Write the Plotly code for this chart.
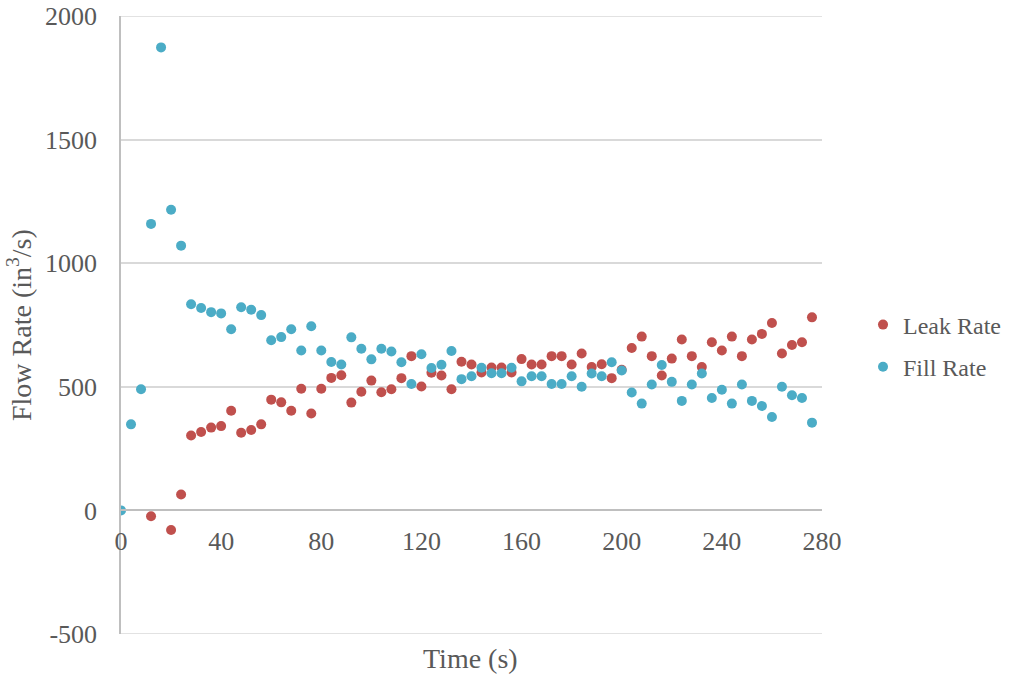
import plotly.graph_objects as go

time_s = [0, 4, 8, 12, 16, 20, 24, 28, 32, 36, 40, 44, 48, 52, 56, 60, 64, 68, 72, 76,
          80, 84, 88, 92, 96, 100, 104, 108, 112, 116, 120, 124, 128, 132, 136, 140,
          144, 148, 152, 156, 160, 164, 168, 172, 176, 180, 184, 188, 192, 196, 200,
          204, 208, 212, 216, 220, 224, 228, 232, 236, 240, 244, 248, 252, 256, 260,
          264, 268, 272, 276]

leak_rate = [None, None, None, -24, None, -79, 64, 303, 317, 335, 341, 403, 314, 325, 348,
             448, 437, 403, 492, 392, 492, 536, 547, 436, 480, 525, 478, 490, 535, 624,
             501, 557, 546, 490, 601, 590, 558, 578, 578, 558, 612, 590, 590, 624, 624,
             590, 635, 580, 591, 535, 569, 657, 703, 624, 546, 614, 691, 624, 580, 680,
             647, 703, 624, 691, 714, 758, 635, 669, 680, 781]

fill_rate = [0, 348, 490, 1159, 1873, 1216, 1071, 834, 819, 802, 797, 733, 822, 812, 790,
             688, 701, 733, 647, 745, 647, 600, 590, 700, 654, 611, 654, 643, 599, 511,
             632, 576, 589, 645, 531, 543, 577, 555, 555, 577, 522, 543, 543, 511, 511,
             543, 500, 554, 543, 599, 566, 477, 432, 509, 588, 520, 443, 509, 554, 455,
             488, 432, 509, 443, 422, 378, 500, 466, 455, 355]

y_tick_vals = [-500, 0, 500, 1000, 1500, 2000]
y_tick_text = ["-500", "0", "500", "1000", "1500", "2000"]
x_tick_vals = [0, 40, 80, 120, 160, 200, 240, 280]

FONT = "Liberation Serif"
TXT = "#595959"
GRID = "#d9d9d9"

fig = go.Figure()
fig.add_trace(go.Scatter(x=time_s, y=leak_rate, mode="markers", name="Leak Rate",
                         legendgroup="a",
                         marker=dict(color="#c0504d", size=10)))
fig.add_trace(go.Scatter(x=time_s, y=fill_rate, mode="markers", name="Fill Rate",
                         legendgroup="b",
                         marker=dict(color="#4bacc6", size=10)))

# edge gridlines (at the range limits) drawn explicitly
edge_shapes = [
    dict(type="line", xref="paper", yref="y", x0=0, x1=1,
         y0=v, y1=v, line=dict(color=GRID, width=1.5), layer="below")
    for v in (y_tick_vals[0], y_tick_vals[-1])
]

fig.update_layout(
    width=1015, height=676,
    margin=dict(l=121, r=193, t=16, b=42, autoexpand=False),
    paper_bgcolor="white", plot_bgcolor="white",
    font=dict(family=FONT, size=26, color=TXT),
    showlegend=True,
    legend=dict(x=1.0585, xanchor="left", y=0.466, yanchor="middle",
                font=dict(family=FONT, size=24, color=TXT),
                tracegroupgap=8, bgcolor="rgba(0,0,0,0)"),
    xaxis=dict(range=[0, 280], tickvals=x_tick_vals, showgrid=False,
               anchor="free", position=0.2, showline=True, linecolor="#bfbfbf",
               linewidth=1.5, ticks="", zeroline=False, ticklabelstandoff=8,
               automargin=False,
               tickfont=dict(family=FONT, size=26, color=TXT)),
    yaxis=dict(range=[-500, 2000], tickvals=y_tick_vals, ticktext=y_tick_text,
               showgrid=True, gridcolor=GRID, gridwidth=1.5,
               showline=True, linecolor="#bfbfbf", linewidth=1.5,
               zeroline=False, ticks="", ticklabelstandoff=17,
               automargin=False,
               tickfont=dict(family=FONT, size=26, color=TXT)),
    shapes=edge_shapes,
    annotations=[
        dict(text="Time (s)", xref="paper", yref="paper", x=0.498, y=-0.039,
             xanchor="center", yanchor="middle", showarrow=False,
             font=dict(family=FONT, size=28, color=TXT)),
        dict(text="Flow Rate (in<sup>3</sup>/s)", xref="paper", yref="paper",
             x=-0.1455, y=0.5, xanchor="center", yanchor="middle",
             textangle=-90, showarrow=False,
             font=dict(family=FONT, size=28, color=TXT)),
    ],
)

fig.write_html("out.html",
               config={"displayModeBar": False},
               post_script="document.body.style.margin='0';"
                           "document.body.style.overflow='hidden';")
